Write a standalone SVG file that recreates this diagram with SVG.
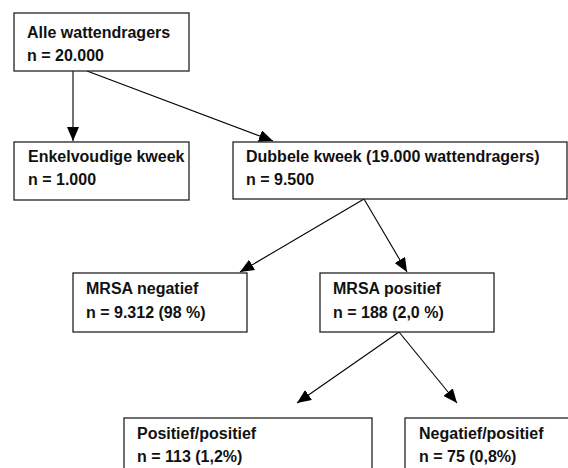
<svg xmlns="http://www.w3.org/2000/svg" width="568" height="468" viewBox="0 0 568 468">
<style>
.box{fill:#fff;stroke:#222;stroke-width:1.3}
.t{font-family:"Liberation Sans",Arial,sans-serif;font-weight:bold;font-size:16px;fill:#111}
.c{fill:none;stroke:#000;stroke-width:1.1}
</style>
<defs>
<marker id="ah" markerUnits="userSpaceOnUse" markerWidth="14" markerHeight="12" refX="14" refY="6" orient="auto">
<path d="M0,0 L14,6 L0,12 z" fill="#000"/>
</marker>
</defs>
<rect width="568" height="468" fill="#fff"/>
<g id="connectors">
<line class="c" x1="73" y1="71" x2="73" y2="141" marker-end="url(#ah)"/>
<line class="c" x1="87" y1="71" x2="273" y2="141" marker-end="url(#ah)"/>
<line class="c" x1="364" y1="199" x2="240" y2="272" marker-end="url(#ah)"/>
<line class="c" x1="364" y1="199" x2="407" y2="272" marker-end="url(#ah)"/>
<line class="c" x1="399" y1="332" x2="297" y2="403" marker-end="url(#ah)"/>
<line class="c" x1="399" y1="332" x2="457" y2="403" marker-end="url(#ah)"/>
</g>
<g id="alle">
<rect class="box" x="14" y="13" width="175" height="58"/>
<text class="t" x="27" y="38">Alle wattendragers</text>
<text class="t" x="27" y="61">n = 20.000</text>
</g>
<g id="enkel">
<rect class="box" x="14" y="142" width="175" height="58"/>
<text class="t" x="28" y="162">Enkelvoudige kweek</text>
<text class="t" x="28" y="185">n = 1.000</text>
</g>
<g id="dubbel">
<rect class="box" x="233" y="142" width="334" height="57"/>
<text class="t" x="246" y="162">Dubbele kweek (19.000 wattendragers)</text>
<text class="t" x="246" y="185">n = 9.500</text>
</g>
<g id="mrsaneg">
<rect class="box" x="73" y="273" width="174" height="59"/>
<text class="t" x="86" y="294">MRSA negatief</text>
<text class="t" x="86" y="318">n = 9.312 (98 %)</text>
</g>
<g id="mrsapos">
<rect class="box" x="320" y="273" width="174" height="59"/>
<text class="t" x="333" y="294">MRSA positief</text>
<text class="t" x="333" y="318">n = 188 (2,0 %)</text>
</g>
<g id="pospos">
<rect class="box" x="124" y="418" width="248" height="60"/>
<text class="t" x="137" y="439">Positief/positief</text>
<text class="t" x="137" y="462">n = 113 (1,2%)</text>
</g>
<g id="negpos">
<rect class="box" x="405" y="418" width="180" height="60"/>
<text class="t" x="419" y="439">Negatief/positief</text>
<text class="t" x="419" y="462">n = 75 (0,8%)</text>
</g>
</svg>
